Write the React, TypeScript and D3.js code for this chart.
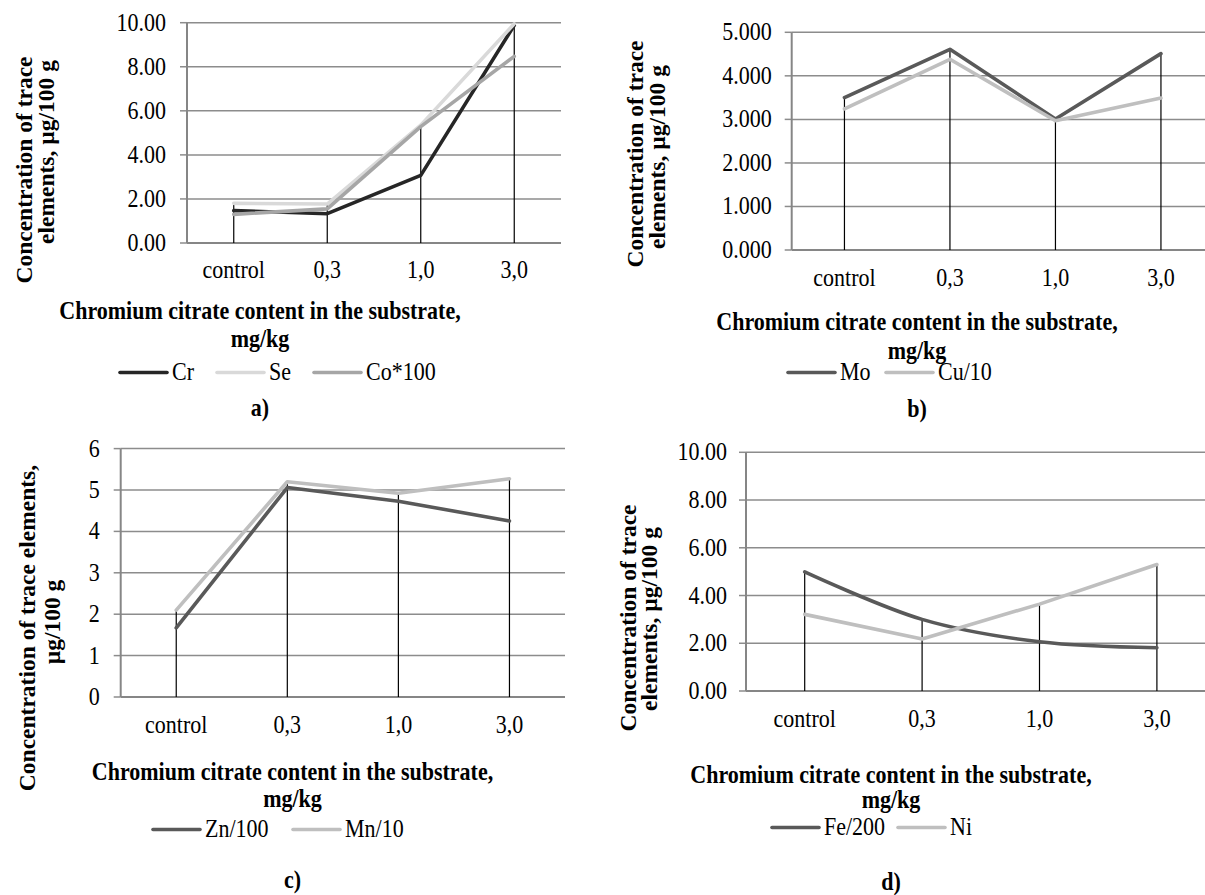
import React from "react";
import * as d3 from "d3";

// x categories shared by all four panels
const categories = ["control", "0,3", "1,0", "3,0"];

// panel a
const crValues = [1.47, 1.33, 3.07, 9.88];
const seValues = [1.8, 1.77, 5.35, 9.95];
const coValues = [1.3, 1.55, 5.28, 8.47];
// panel b
const moValues = [3.5, 4.61, 3.01, 4.51];
const cuValues = [3.24, 4.38, 2.97, 3.49];
// panel c
const znValues = [1.67, 5.06, 4.73, 4.25];
const mnValues = [2.1, 5.2, 4.92, 5.27];
// panel d
const feValues = [4.99, 3.0, 2.06, 1.81];
const niValues = [3.21, 2.18, 3.64, 5.3];

const xTitle = ["Chromium citrate content in the substrate,", "mg/kg"];

const FONT = "'Liberation Serif', 'Times New Roman', serif";
// the scanned figure has slightly taller glyphs than plain Times
const STRETCH = 1.1;

type Series = { name: string; values: number[]; color: string; smooth?: boolean; legendX: number };
type PanelCfg = {
  letter: string;
  left: number; right: number; top: number; bottom: number;
  yMax: number; tickCount: number; fmt: string; labelGap: number;
  yTitle: { text: string; bx: number; cy: number }[];
  catY: number; titleX: number; titleY: number[]; legendY: number; letterY: number;
  series: Series[];
};

const panels: PanelCfg[] = [
  {
    letter: "a)", left: 187, right: 561, top: 22.7, bottom: 243,
    yMax: 10, tickCount: 5, fmt: ".2f", labelGap: 21,
    yTitle: [
      { text: "Concentration of trace", bx: 32, cy: 170 },
      { text: "elements, µg/100 g", bx: 54, cy: 152 },
    ],
    catY: 278, titleX: 260, titleY: [319, 347], legendY: 380, letterY: 416,
    series: [
      { name: "Cr", values: crValues, color: "#262626", legendX: 120 },
      { name: "Se", values: seValues, color: "#d9d9d9", legendX: 217 },
      { name: "Co*100", values: coValues, color: "#a6a6a6", legendX: 314 },
    ],
  },
  {
    letter: "b)", left: 791.7, right: 1213.7, top: 32.3, bottom: 250,
    yMax: 5, tickCount: 5, fmt: ".3f", labelGap: 20,
    yTitle: [
      { text: "Concentration of trace", bx: 643, cy: 154 },
      { text: "elements, µg/100 g", bx: 665, cy: 157 },
    ],
    catY: 286, titleX: 917, titleY: [330, 359], legendY: 380, letterY: 417,
    series: [
      { name: "Mo", values: moValues, color: "#595959", legendX: 788 },
      { name: "Cu/10", values: cuValues, color: "#bfbfbf", legendX: 886 },
    ],
  },
  {
    letter: "c)", left: 120.7, right: 565, top: 448.6, bottom: 697,
    yMax: 6, tickCount: 6, fmt: "d", labelGap: 21,
    yTitle: [
      { text: "Concentration of trace elements,", bx: 35, cy: 628 },
      { text: "µg/100 g", bx: 60, cy: 622 },
    ],
    catY: 733, titleX: 292.5, titleY: [780, 807], legendY: 837, letterY: 888,
    series: [
      { name: "Zn/100", values: znValues, color: "#595959", legendX: 153 },
      { name: "Mn/10", values: mnValues, color: "#bfbfbf", legendX: 293 },
    ],
  },
  {
    letter: "d)", left: 746, right: 1215.6, top: 452.3, bottom: 691,
    yMax: 10, tickCount: 5, fmt: ".2f", labelGap: 19,
    yTitle: [
      { text: "Concentration of trace", bx: 636, cy: 618 },
      { text: "elements, µg/100 g", bx: 657, cy: 619 },
    ],
    catY: 727, titleX: 891, titleY: [783, 808], legendY: 835, letterY: 890,
    series: [
      { name: "Fe/200", values: feValues, color: "#595959", smooth: true, legendX: 772 },
      { name: "Ni", values: niValues, color: "#bfbfbf", legendX: 898 },
    ],
  },
];

// horizontal text, stretched a little vertically around its baseline
function Label({ x, y, anchor = "start", bold = false, dy, children }: any) {
  return (
    <text transform={`translate(${x},${y}) scale(1,${STRETCH})`} dy={dy} textAnchor={anchor}
      fontSize={22} fontWeight={bold ? "bold" : "normal"}>
      {children}
    </text>
  );
}

function Panel({ cfg }: { cfg: PanelCfg }) {
  const x = d3.scaleBand().domain(categories).range([cfg.left, cfg.right]).padding(0);
  const y = d3.scaleLinear().domain([0, cfg.yMax]).range([cfg.bottom, cfg.top]);
  const cx = (c: string) => (x(c) as number) + x.bandwidth() / 2;
  const fmt = d3.format(cfg.fmt);
  const ticks = y.ticks(cfg.tickCount);

  const maxAt = categories.map((_, i) => d3.max(cfg.series, s => s.values[i]) as number);

  return (
    <g fontFamily={FONT} fill="#000">
      {/* gridlines + y ticks */}
      {ticks.map(t => (
        <g key={t}>
          {t > 0 && (
            <line x1={cfg.left} x2={cfg.right} y1={y(t)} y2={y(t)} stroke="#8c8c8c" strokeWidth={1.5} />
          )}
          <line x1={cfg.left - 7} x2={cfg.left} y1={y(t)} y2={y(t)} stroke="#8c8c8c" strokeWidth={1.5} />
          <Label x={cfg.left - cfg.labelGap} y={y(t)} dy="0.33em" anchor="end">{fmt(t)}</Label>
        </g>
      ))}
      {/* axes */}
      <line x1={cfg.left} x2={cfg.left} y1={cfg.top} y2={cfg.bottom} stroke="#868686" strokeWidth={2} />
      <line x1={cfg.left} x2={cfg.right} y1={cfg.bottom} y2={cfg.bottom} stroke="#868686" strokeWidth={2} />
      {/* drop lines */}
      {categories.map((c, i) => (
        <line key={c} x1={cx(c)} x2={cx(c)} y1={cfg.bottom} y2={y(maxAt[i])} stroke="#000" strokeWidth={1.2} />
      ))}
      {/* series */}
      {cfg.series.map(s => {
        const line = d3.line<number>()
          .x((_, i) => cx(categories[i]))
          .y(d => y(d))
          .curve(s.smooth ? d3.curveCatmullRom.alpha(0.5) : d3.curveLinear);
        return (
          <path key={s.name} d={line(s.values) || ""} fill="none" stroke={s.color} strokeWidth={3.6}
            strokeLinejoin="round" strokeLinecap="round" />
        );
      })}
      {/* category labels */}
      {categories.map(c => (
        <Label key={c} x={cx(c)} y={cfg.catY} anchor="middle">{c}</Label>
      ))}
      {/* y title */}
      {cfg.yTitle.map(t => (
        <text key={t.text} transform={`translate(${t.bx},${t.cy}) rotate(-90)`} textAnchor="middle"
          fontSize={23.5} fontWeight="bold">{t.text}</text>
      ))}
      {/* x title */}
      {xTitle.map((t, i) => (
        <Label key={t} x={cfg.titleX} y={cfg.titleY[i]} anchor="middle" bold>{t}</Label>
      ))}
      {/* legend */}
      {cfg.series.map(s => (
        <g key={s.name}>
          <line x1={s.legendX} x2={s.legendX + 47} y1={cfg.legendY - 7.5} y2={cfg.legendY - 7.5}
            stroke={s.color} strokeWidth={3.6} strokeLinecap="round" />
          <Label x={s.legendX + 52} y={cfg.legendY}>{s.name}</Label>
        </g>
      ))}
      <Label x={cfg.titleX} y={cfg.letterY} anchor="middle" bold>{cfg.letter}</Label>
    </g>
  );
}

export default function App() {
  return (
    <div style={{ position: "absolute", left: 0, top: 0, background: "#fff" }}>
      <svg width={1205} height={895} style={{ display: "block" }}>
        <rect width={1205} height={895} fill="#fff" />
        {panels.map(p => <Panel key={p.letter} cfg={p} />)}
      </svg>
    </div>
  );
}
